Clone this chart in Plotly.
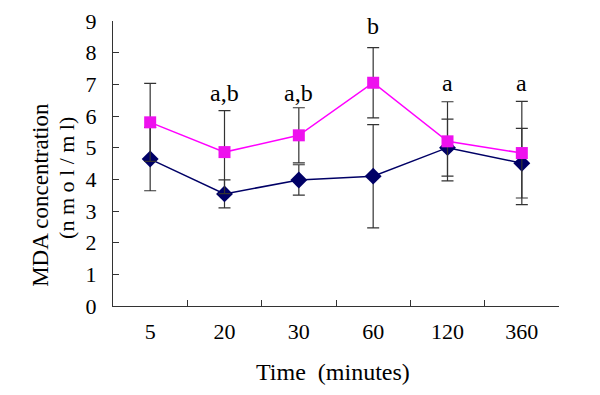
import plotly.graph_objects as go

categories = ["5", "20", "30", "60", "120", "360"]
pink_values = [5.80, 4.86, 5.39, 7.05, 5.20, 4.83]
pink_errors = [1.23, 1.31, 0.87, 1.11, 1.25, 1.63]
blue_values = [4.64, 3.54, 3.98, 4.10, 5.00, 4.51]
blue_errors = [1.00, 0.44, 0.48, 1.63, 0.90, 1.10]
labels = ["", "a,b", "a,b", "b", "a", "a"]
label_y = [0, 6.74, 6.74, 8.85, 7.05, 7.05]

FONT = "Liberation Serif, Times New Roman, serif"

fig = go.Figure()
fig.add_trace(go.Scatter(
    x=categories, y=blue_values, mode="lines+markers",
    line=dict(color="#000066", width=1.5),
    marker=dict(symbol="diamond", size=13, color="#000066"),
    error_y=dict(type="data", array=blue_errors, color="#333333", thickness=1.2, width=6),
    showlegend=False))
fig.add_trace(go.Scatter(
    x=categories, y=pink_values, mode="lines+markers",
    line=dict(color="#FF00FF", width=1.5),
    marker=dict(symbol="square", size=12, color="#EE11EE"),
    error_y=dict(type="data", array=pink_errors, color="#333333", thickness=1.2, width=6),
    showlegend=False))

for i, (t, yv) in enumerate(zip(labels, label_y)):
    if t:
        fig.add_annotation(x=i, y=yv, text=t, showarrow=False, xref="x", yref="y",
                           yanchor="middle", font=dict(family=FONT, size=24, color="black"))

# axis titles placed as annotations
fig.add_annotation(x=-0.1614, y=0.390, xref="paper", yref="paper", text="MDA concentration",
                   textangle=-90, showarrow=False, xanchor="center", yanchor="middle",
                   font=dict(family=FONT, size=23, color="black"))
fig.add_annotation(x=-0.1031, y=0.4495, xref="paper", yref="paper", text="(n m o l / m l)",
                   textangle=-90, showarrow=False, xanchor="center", yanchor="middle",
                   font=dict(family=FONT, size=22, color="black"))
fig.add_annotation(x=0.493, y=-0.23, xref="paper", yref="paper", text="Time  (minutes)",
                   showarrow=False, xanchor="center", yanchor="middle",
                   font=dict(family=FONT, size=24, color="black"))

fig.update_layout(
    width=600, height=395,
    margin=dict(l=105, r=49, t=13, b=97),
    paper_bgcolor="white", plot_bgcolor="white",
    font=dict(family=FONT, size=22, color="black"),
    xaxis=dict(type="category", range=[-0.5, 5.5], showline=True, linecolor="#333333",
               linewidth=1.2, ticks="inside", ticklen=6, tickcolor="#333333",
               tickson="boundaries", showgrid=False, zeroline=False, automargin=False,
               ticklabelstandoff=5, tickfont=dict(family=FONT, size=22)),
    yaxis=dict(range=[0, 9], dtick=1, showline=True, linecolor="#333333", linewidth=1.2,
               ticks="inside", ticklen=6, tickcolor="#333333", showgrid=False, zeroline=False,
               automargin=False, ticklabelstandoff=11, ticklabeloverflow="allow",
               tickfont=dict(family=FONT, size=22)),
)

fig.write_html("out.html")
